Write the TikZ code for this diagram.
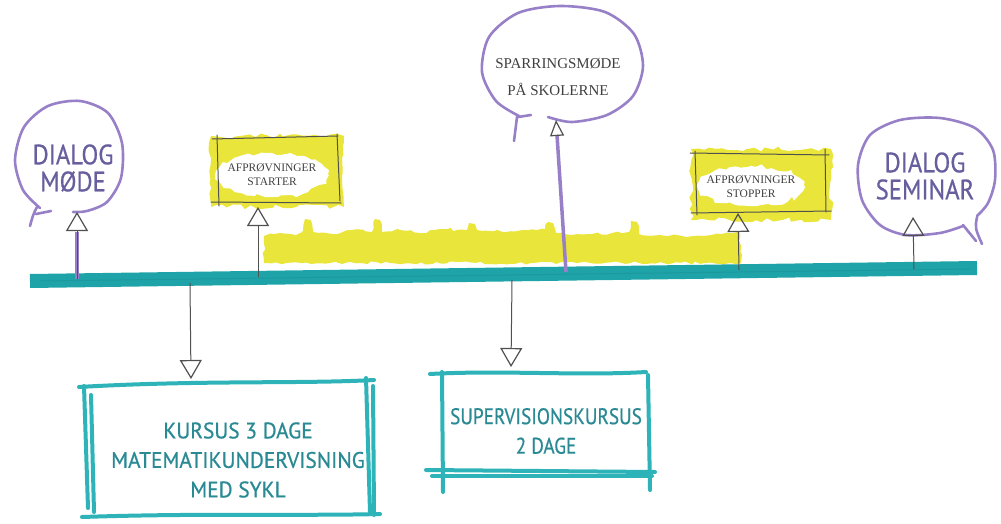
\documentclass[tikz,border=0pt]{standalone}
\usepackage{fontspec}
\setmainfont{Liberation Serif}
\newfontfamily\hand[FakeBold=0.7]{PT Sans}
\usetikzlibrary{arrows.meta,decorations.pathmorphing}
\definecolor{tealline}{HTML}{1EA3A8}
\definecolor{tealbox}{HTML}{2DB3B8}
\definecolor{tealtext}{HTML}{2A8A94}
\definecolor{bubble}{HTML}{9880C8}
\definecolor{bubbletext}{HTML}{675E9E}
\definecolor{marker}{HTML}{EAE53A}
\definecolor{pencil}{HTML}{505050}
\begin{document}
\begin{tikzpicture}[x=1pt,y=-1pt,
  bubbleline/.style={draw=bubble,line width=2.6pt,line cap=round,line join=round},
  bubbletxt/.style={font=\hand\fontsize{28}{27}\selectfont,text=bubbletext,align=center,xscale=0.88,transform shape,inner sep=0pt},
  serif/.style={font=\fontsize{15}{27}\selectfont,text=black!75,align=center,inner sep=0pt},
  smallserif/.style={font=\fontsize{11.5}{14}\selectfont,text=black!75,align=center,inner sep=0pt},
  tealtxt/.style={font=\hand\fontsize{22.5}{29.5}\selectfont,text=tealtext,align=center,xscale=0.95,transform shape,inner sep=0pt},
  boxline/.style={draw=tealbox,line width=4pt,line cap=round},
  pencilline/.style={draw=pencil,line width=1pt,line cap=round},
  uparrow/.style={draw=pencil,line width=1pt,-{Triangle[open,length=19pt,width=22pt,line width=1.2pt]}},
]
\useasboundingbox (0,0) rectangle (1001,524);

% ---------- yellow marker band ----------
\fill[marker,decorate,decoration={random steps,segment length=5pt,amplitude=1.5pt}]
 (264,263) -- (264,236) -- (280,233) -- (296,235) -- (303,231) -- (305,219) -- (311,220) -- (313,232)
 -- (332,234) -- (352,230) -- (372,232) -- (375,219) -- (380,220) -- (382,232) -- (400,230)
 -- (420,233) -- (440,229) -- (451,228) -- (453,231) -- (467,230) -- (469,223) -- (475,224)
 -- (477,230) -- (500,231) -- (522,230) -- (545,229) -- (548,222) -- (553,223) -- (556,233)
 -- (572,235) -- (592,234) -- (612,233) -- (629,232) -- (631,221) -- (637,222) -- (639,234)
 -- (660,235) -- (682,236) -- (702,236) -- (722,234) -- (740,231) -- (741,263) -- cycle;

% ---------- timeline ----------
\coordinate (tl) at (30,281);
\coordinate (tr) at (977,268);
\draw[tealline,line width=14pt] (tl) -- (tr);
\draw[tealline!80!black,line width=1pt,opacity=0.3] (40,281) -- (970,269);

% points on the timeline
\coordinate (t1) at (77,279);
\coordinate (t2) at (258,277);
\coordinate (t3) at (566,272);
\coordinate (t4) at (739,270);
\coordinate (t5) at (914,269);
\coordinate (d1) at (190,283);
\coordinate (d2) at (512,280);

% ---------- DIALOG MØDE bubble ----------
\node[bubbletxt] (dm) at (73,168) {DIALOG\\MØDE};
\draw[bubbleline] plot[smooth] coordinates {(40,208) (23,190) (15,160) (24,127) (48,106) (80,101) (108,113) (122,143) (121,178) (107,202) (87,211) (73,212)};
\draw[bubbleline] (37,207) .. controls (33,215) .. (30,226);
\draw[bubbleline] (36,214) -- (51,211);
\coordinate (dmtip) at (77,212);
\draw[bubble,line width=4pt] (t1) -- (77,232);
\draw[uparrow] (t1) -- (dmtip);

% ---------- AFPRØVNINGER STARTER ----------
\fill[marker,decorate,decoration={random steps,segment length=6pt,amplitude=2.5pt}] (211,136) rectangle (344,207);
\fill[white,decorate,decoration={random steps,segment length=5pt,amplitude=2.5pt}] (272,175) ellipse [x radius=56pt,y radius=22pt];
\node[smallserif] (as) at (272,175) {AFPRØVNINGER\\STARTER};
\draw[pencilline] (212,139) -- (338,136);
\draw[pencilline] (217,135) -- (219,206);
\draw[pencilline] (337,134) -- (340,201);
\draw[pencilline] (211,202) -- (341,203);
\coordinate (astip) at (258,207);
\draw[uparrow] (t2) -- (astip);

% ---------- SPARRINGSMØDE ----------
\node[serif] (sp) at (558,77) {SPARRINGSMØDE\\PÅ SKOLERNE};
\draw[bubbleline] plot[smooth] coordinates {(519,116) (496,101) (482,72) (489,37) (518,13) (560,6) (605,12) (634,34) (643,66) (633,96) (607,115) (572,122) (548,117)};
\draw[bubbleline] (517,117) -- (514,141);
\draw[bubbleline] (518,117) -- (531,115);
\coordinate (sptip) at (556,120);
\draw[draw=bubble,line width=3.5pt] (t3) -- (557,135);
\draw[uparrow,-{Triangle[open,length=16pt,width=14pt,line width=1.2pt]}] (557,135) -- (sptip);

% ---------- AFPRØVNINGER STOPPER ----------
\fill[marker,decorate,decoration={random steps,segment length=6pt,amplitude=2.5pt}] (691,149) rectangle (831,220);
\fill[white,decorate,decoration={random steps,segment length=5pt,amplitude=2.5pt}] (751,186) ellipse [x radius=53pt,y radius=20pt];
\node[smallserif] (ap) at (751,187) {AFPRØVNINGER\\STOPPER};
\draw[pencilline] (690,153) -- (829,155);
\draw[pencilline] (695,151) -- (697,215);
\draw[pencilline] (825,149) -- (826,212);
\draw[pencilline] (691,213) -- (831,211);
\coordinate (aptip) at (738,213);
\draw[uparrow] (t4) -- (aptip);

% ---------- DIALOG SEMINAR bubble ----------
\node[bubbletxt] (ds) at (925,176) {DIALOG\\SEMINAR};
\draw[bubbleline] plot[smooth] coordinates {(963,226) (940,233) (906,235) (880,225) (862,200) (858,165) (870,135) (900,120) (940,118) (975,128) (993,150) (995,180) (988,203) (977,216)};
\draw[bubbleline] (977,217) .. controls (975,228) .. (982,244);
\draw[bubbleline] (963,225) -- (976,241);
\coordinate (dstip) at (913,217);
\draw[uparrow] (t5) -- (dstip);

% ---------- down arrows ----------
\coordinate (k1tip) at (191,379);
\coordinate (k2tip) at (511,367);
\draw[uparrow] (d1) -- (k1tip);
\draw[uparrow] (d2) -- (k2tip);

% ---------- KURSUS box ----------
\node[tealtxt] (k1) at (238,460) {KURSUS 3 DAGE\\MATEMATIKUNDERVISNING\\MED SYKL};
\draw[boxline] (79,387) .. controls (200,380) and (300,384) .. (374,380);
\draw[boxline] (84,386) -- (88,508);
\draw[boxline] (91,395) -- (94,512);
\draw[boxline] (366,378) -- (370,512);
\draw[boxline] (373,386) -- (374,515);
\draw[boxline] (82,517) .. controls (200,513) and (300,516) .. (380,514);

% ---------- SUPERVISION box ----------
\node[tealtxt,xscale=0.9] (k2) at (546,431) {SUPERVISIONSKURSUS\\2 DAGE};
\draw[boxline] (430,374) .. controls (500,370) and (580,376) .. (646,372);
\draw[boxline] (442,372) -- (443,492);
\draw[boxline] (648,375) -- (650,490);
\draw[boxline] (426,470) -- (655,472);
\draw[boxline] (432,476) -- (652,476);
\end{tikzpicture}
\end{document}
